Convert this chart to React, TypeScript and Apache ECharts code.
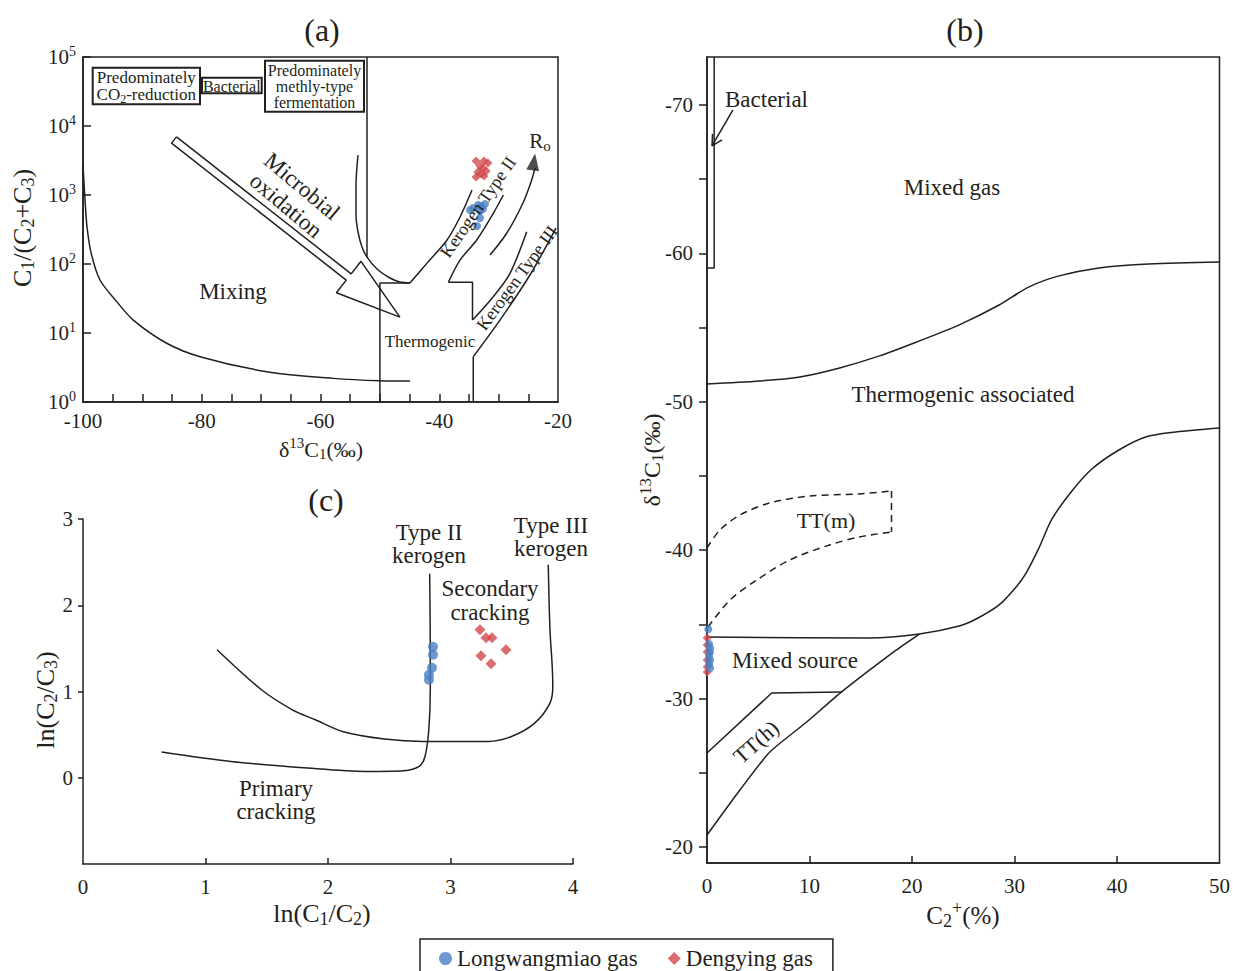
import React, { useEffect, useRef } from 'react';
import * as echarts from 'echarts';

const FONT = "'Liberation Serif', 'Times New Roman', serif";
const INK = '#231f20';
const BLUE = '#4a7fc4';
const RED = '#d2474b';

// ---------- Panel (a): C1/(C2+C3) vs d13C1 ----------
const aXTicks = [-95, -90, -85, -80, -75, -70, -65, -60, -55, -50, -45, -40, -35, -30, -25];
const aXLabels = [-100, -80, -60, -40, -20];
const longwangA: number[][] = [
  [-34.82, 606], [-34.32, 648], [-33.47, 716], [-32.97, 692], [-32.3, 741],
  [-32.63, 627], [-33.14, 586], [-33.14, 464], [-33.64, 356],
];
const dengyingA: number[][] = [
  [-33.8, 3110], [-32.46, 3110], [-31.8, 2910], [-33.14, 2630], [-32.63, 2450],
  [-33.47, 2150], [-32.1, 2230], [-32.46, 1885], [-33.8, 1820], [-32.97, 2014],
];
const aMixing: number[][] = [
  [-100, 2720], [-99.6, 700], [-99.3, 330], [-98.6, 140], [-97.14, 58.6], [-94.32, 28.5],
  [-91.53, 15.4], [-85.9, 7.1], [-80.29, 4.53], [-69.06, 2.75], [-57.84, 2.2], [-49.98, 2.03], [-44.93, 2.01],
];
const aBactLine: number[][] = [[-52.17, 100000], [-52.17, 126]];
const aBowl: number[][] = [
  [-53.68, 3800], [-54.02, 1396], [-54.02, 513], [-53.68, 291], [-53.01, 176], [-52.17, 126],
  [-50.48, 84.6], [-48.29, 62.7], [-46.61, 54.8], [-44.93, 53],
];
const aThermoStep: number[][] = [[-50, 1], [-50, 53], [-44.93, 53]];
const aType2Left: number[][] = [[-44.93, 53], [-42.06, 103], [-38.69, 223], [-36.5, 480], [-34.48, 1181]];
const aType2Right: number[][] = [[-29.2, 1000], [-30.9, 543], [-33.69, 223], [-36.5, 114], [-38.47, 54.3]];
const aStep2: number[][] = [[-38.47, 54.3], [-34.4, 54.3], [-34.4, 15.4]];
const aType3Left: number[][] = [[-34.4, 15.4], [-30.9, 33.6], [-28.08, 73.3], [-25.27, 294]];
const aType3Right: number[][] = [[-20.34, 332], [-24.72, 69.3], [-29.77, 15.4], [-34.27, 4.54]];
const aStep3: number[][] = [[-34.27, 4.54], [-34.27, 1]];
const aRoCurve: number[][] = [[-31.45, 135], [-28.64, 279], [-25.9, 766], [-24.43, 1650], [-23.87, 2460]];
const aRoHead: number[][] = [[-24.06, 3007]];
const aMicrobialArrow: number[][] = [
  [-84.25, 6950], [-54.83, 71.9], [-53.18, 109.4], [-46.63, 17.0], [-57.32, 38.4],
  [-55.67, 58.4], [-85.09, 5650], [-84.25, 6950],
];

// ---------- Panel (b): d13C1 vs C2+ ----------
const bXTicks = [10, 20, 30, 40];
const bXLabels = [0, 10, 20, 30, 40, 50];
const bYTicks = [-70, -65, -60, -55, -50, -45, -40, -35, -30, -25, -20];
const bYLabels = [-70, -60, -50, -40, -30, -20];
const longwangB: number[][] = [
  [0.13, -34.67], [0.2, -33.68], [0.3, -33.41], [0.3, -33.14], [0.2, -32.87], [0.3, -32.6], [0.2, -32.33], [0.3, -32.06],
];
const dengyingB: number[][] = [
  [0.02, -34.08], [0.02, -33.61], [0.02, -33.14], [0.02, -32.6], [0.02, -32.13], [0.02, -31.79],
];
const bUpper: number[][] = [
  [0, -51.2], [5.16, -51.4], [9.05, -51.67], [12.94, -52.28], [16.83, -53.09], [20.72, -54.1],
  [24.61, -55.18], [28.5, -56.52], [31.42, -57.74], [34.34, -58.48], [38.23, -59.02], [43.09, -59.29], [50, -59.42],
];
const bLower: number[][] = [
  [0, -34.15], [15.86, -34.08], [20.72, -34.35], [24.61, -34.89], [26.26, -35.36], [28.5, -36.31],
  [30.16, -37.52], [31.13, -38.46], [32.39, -40.15], [33.66, -42.1], [35.6, -43.99], [37.55, -45.47],
  [40.18, -46.75], [42.8, -47.63], [45.72, -47.96], [50, -48.23],
];
const bTTmUpper: number[][] = [[0, -40.15], [1.26, -41.36], [3.21, -42.37], [6.13, -43.18], [10.02, -43.65], [14.88, -43.79], [18.0, -43.99]];
const bTTmLower: number[][] = [[0.1, -34.82], [2.24, -36.64], [4.86, -37.99], [8.07, -39.34], [11.96, -40.35], [14.88, -40.89], [18.0, -41.23]];
const bTTmSide: number[][] = [[18.0, -43.99], [18.0, -41.23]];
const bTThUpper: number[][] = [[0, -26.33], [6.32, -30.38], [13.13, -30.45]];
const bTThLower: number[][] = [[0, -20.81], [3.21, -23.84], [6.13, -26.4], [9.73, -28.42], [13.13, -30.45], [18.48, -33.28], [20.72, -34.35]];
const bBactBox: number[][] = [[0.7, -73.23], [0.7, -59.02], [0, -59.02]];
const bBactArrow: number[][] = [[2.53, -69.66], [0.49, -67.24]];
const bBactHead: number[][] = [[1.46, -67.64], [0.49, -67.24], [0.54, -68.05]];

// ---------- Panel (c): ln(C2/C3) vs ln(C1/C2) ----------
const cXTicks = [1, 2, 3, 4];
const cXLabels = [0, 1, 2, 3, 4];
const cYTicks = [0, 1, 2, 3];
const cYLabels = [0, 1, 2, 3];
const longwangC: number[][] = [[2.857, 1.519], [2.857, 1.426], [2.849, 1.275], [2.824, 1.194], [2.824, 1.136]];
const dengyingC: number[][] = [[3.241, 1.716], [3.29, 1.623], [3.339, 1.623], [3.453, 1.484], [3.249, 1.414], [3.331, 1.322]];
const cPrimary: number[][] = [
  [0.641, 0.298], [1.207, 0.189], [1.834, 0.112], [2.305, 0.073], [2.619, 0.081], [2.744, 0.131],
  [2.792, 0.247], [2.823, 0.557], [2.835, 1.02], [2.835, 1.484], [2.83, 2.365],
];
const cSecondary: number[][] = [
  [1.094, 1.484], [1.457, 1.02], [1.709, 0.788], [1.897, 0.672], [2.117, 0.537], [2.462, 0.449],
  [2.776, 0.421], [3.31, 0.421], [3.498, 0.479], [3.687, 0.634], [3.812, 0.866], [3.835, 1.06],
  [3.83, 1.3], [3.812, 1.716], [3.798, 2.47],
];

function richG(f: number) {
  const s = Math.round(f * 0.7);
  return {
    sub: { fontSize: s, fontFamily: FONT, fill: INK, color: INK, padding: [Math.round(f * 0.45), 0, 0, 0] },
    sup: { fontSize: s, fontFamily: FONT, fill: INK, color: INK, padding: [0, 0, Math.round(f * 0.6), 0] },
  };
}

function T(text: string, x: number, y: number, size: number, o: any = {}) {
  return {
    type: 'text', x, y, rotation: o.rot || 0, silent: true, z: 100,
    style: {
      text, fill: INK, fontSize: size, fontFamily: FONT,
      align: o.align || 'center', verticalAlign: 'middle',
      lineHeight: o.lh, rich: richG(size),
    },
  };
}

function R(x: number, y: number, w: number, h: number) {
  return { type: 'rect', z: 90, silent: true, shape: { x, y, width: w, height: h }, style: { fill: '#fff', stroke: INK, lineWidth: 2 } };
}

function L(name: string, data: number[][], ax: number, o: any = {}) {
  return {
    type: 'line', name, data, xAxisIndex: ax, yAxisIndex: ax, symbol: 'none', showSymbol: false,
    silent: true, smooth: o.smooth || 0, z: 2,
    lineStyle: { color: INK, width: 1.5, type: o.dash ? [7, 5] : 'solid' },
  };
}

const axisLine = { show: true, onZero: false, lineStyle: { color: INK, width: 1.5 } };
const lbl = (extra: any) => ({ fontSize: 21, fontFamily: FONT, color: INK, showMinLabel: true, showMaxLabel: true, ...extra });

export default function App() {
  const ref = useRef<HTMLDivElement>(null);
  useEffect(() => {
    if (!ref.current) return;
    const chart = echarts.init(ref.current, null, { renderer: 'svg' });
    const P = Math.PI / 2;
    const option: any = {
      animation: false,
      backgroundColor: '#fff',
      grid: [
        { left: 83, top: 57, width: 475, height: 345, show: true, borderColor: INK, borderWidth: 1.5, backgroundColor: 'transparent' },
        { left: 707, top: 57, width: 514, height: 806, show: true, borderColor: INK, borderWidth: 1.5, backgroundColor: 'transparent' },
        { left: 83, top: 519, width: 490, height: 345 },
      ],
      xAxis: [
        {
          gridIndex: 0, type: 'value', min: -100, max: -20, axisLine, splitLine: { show: false },
          axisTick: { show: true, inside: true, length: 8, customValues: aXTicks, lineStyle: { color: INK, width: 1.5 } },
          axisLabel: lbl({ customValues: aXLabels, margin: 8 }),
        },
        {
          gridIndex: 1, type: 'value', min: 0, max: 50, axisLine, splitLine: { show: false },
          axisTick: { show: true, inside: true, length: 7, customValues: bXTicks, lineStyle: { color: INK, width: 1.5 } },
          axisLabel: lbl({ customValues: bXLabels, margin: 12 }),
        },
        {
          gridIndex: 2, type: 'value', min: 0, max: 4, axisLine, splitLine: { show: false },
          axisTick: { show: true, inside: true, length: 6, customValues: cXTicks, lineStyle: { color: INK, width: 1.5 } },
          axisLabel: lbl({ customValues: cXLabels, margin: 12 }),
        },
      ],
      yAxis: [
        {
          gridIndex: 0, type: 'log', logBase: 10, min: 1, max: 100000, axisLine, splitLine: { show: false },
          minorTick: { show: false },
          axisTick: { show: true, inside: true, length: 8, lineStyle: { color: INK, width: 1.5 } },
          axisLabel: lbl({
            margin: 7,
            formatter: (v: number) => `10{sup|${Math.round(Math.log10(v))}}`,
            rich: { sup: { fontSize: 14, fontFamily: FONT, color: INK, padding: [0, 0, 12, 0] } },
          }),
        },
        {
          gridIndex: 1, type: 'value', min: -73.23, max: -18.92, inverse: true, axisLine, splitLine: { show: false },
          axisTick: { show: true, inside: false, length: 8, customValues: bYTicks, lineStyle: { color: INK, width: 1.5 } },
          axisLabel: lbl({ customValues: bYLabels, margin: 14 }),
        },
        {
          gridIndex: 2, type: 'value', min: -1, max: 3, axisLine, splitLine: { show: false },
          axisTick: { show: true, inside: false, length: 5, customValues: cYTicks, lineStyle: { color: INK, width: 1.5 } },
          axisLabel: lbl({ customValues: cYLabels, margin: 10 }),
        },
      ],
      legend: {
        left: 420, top: 939, orient: 'horizontal', selectedMode: false,
        data: [{ name: 'Longwangmiao gas', icon: 'circle' }, { name: 'Dengying gas', icon: 'diamond' }],
        itemWidth: 13, itemHeight: 13, itemGap: 30, itemTextGap: 8,
        padding: [8, 20, 14, 19], borderColor: INK, borderWidth: 1.5,
        textStyle: { fontSize: 23, fontFamily: FONT, color: INK },
      },
      series: [
        // panel a
        L('aMixing', aMixing, 0, { smooth: 0.3 }),
        L('aBactLine', aBactLine, 0),
        L('aBowl', aBowl, 0, { smooth: 0.3 }),
        L('aThermoStep', aThermoStep, 0),
        L('aType2Left', aType2Left, 0, { smooth: 0.3 }),
        L('aType2Right', aType2Right, 0, { smooth: 0.3 }),
        L('aStep2', aStep2, 0),
        L('aType3Left', aType3Left, 0, { smooth: 0.3 }),
        L('aType3Right', aType3Right, 0, { smooth: 0.3 }),
        L('aStep3', aStep3, 0),
        L('aRoCurve', aRoCurve, 0, { smooth: 0.3 }),
        L('aMicrobialArrow', aMicrobialArrow, 0),
        {
          type: 'scatter', name: 'aRoHead', data: aRoHead, xAxisIndex: 0, yAxisIndex: 0, silent: true,
          symbol: 'triangle', symbolSize: [13, 17], symbolRotate: -8, itemStyle: { color: INK },
        },
        // panel b
        L('bUpper', bUpper, 1, { smooth: 0.3 }),
        L('bLower', bLower, 1, { smooth: 0.3 }),
        L('bTTmUpper', bTTmUpper, 1, { smooth: 0.3, dash: true }),
        L('bTTmLower', bTTmLower, 1, { smooth: 0.3, dash: true }),
        L('bTTmSide', bTTmSide, 1, { dash: true }),
        L('bTThUpper', bTThUpper, 1),
        L('bTThLower', bTThLower, 1, { smooth: 0.2 }),
        L('bBactBox', bBactBox, 1),
        L('bBactArrow', bBactArrow, 1),
        L('bBactHead', bBactHead, 1),
        // panel c
        L('cPrimary', cPrimary, 2, { smooth: 0.3 }),
        L('cSecondary', cSecondary, 2, { smooth: 0.3 }),
        // points
        { type: 'scatter', name: 'Dengying gas', data: dengyingA, xAxisIndex: 0, yAxisIndex: 0, symbol: 'diamond', symbolSize: 9, itemStyle: { color: RED }, z: 5 },
        { type: 'scatter', name: 'Longwangmiao gas', data: longwangA, xAxisIndex: 0, yAxisIndex: 0, symbol: 'circle', symbolSize: 8, itemStyle: { color: BLUE }, z: 6 },
        { type: 'scatter', name: 'Dengying gas', data: dengyingB, xAxisIndex: 1, yAxisIndex: 1, symbol: 'diamond', symbolSize: 9, itemStyle: { color: RED }, z: 5 },
        { type: 'scatter', name: 'Longwangmiao gas', data: longwangB, xAxisIndex: 1, yAxisIndex: 1, symbol: 'circle', symbolSize: 8, itemStyle: { color: BLUE }, z: 6 },
        { type: 'scatter', name: 'Dengying gas', data: dengyingC, xAxisIndex: 2, yAxisIndex: 2, symbol: 'diamond', symbolSize: 11, itemStyle: { color: RED }, z: 5 },
        { type: 'scatter', name: 'Longwangmiao gas', data: longwangC, xAxisIndex: 2, yAxisIndex: 2, symbol: 'circle', symbolSize: 10, itemStyle: { color: BLUE }, z: 6 },
      ],
      graphic: [
        // titles
        T('(a)', 322, 30, 32), T('(b)', 965, 30, 32), T('(c)', 326, 500, 32),
        // panel a boxes
        R(92.7, 67.7, 107.3, 36.6), T('Predominately\nCO{sub|2}-reduction', 146.3, 86, 17, { lh: 17 }),
        R(202, 77.7, 59.7, 15.6), T('Bacterial', 231.8, 86, 16),
        R(265, 60.7, 99, 51), T('Predominately\nmethly-type\nfermentation', 314.5, 86.5, 16, { lh: 16 }),
        // panel a labels
        T('Mixing', 233, 291, 23),
        T('Microbial\noxidation', 294, 196, 23, { rot: -0.70, lh: 25 }),
        T('Thermogenic', 430, 341, 17),
        T('Kerogen Type II', 478, 207, 18, { rot: 0.96 }),
        T('Kerogen Type III', 517, 278, 18, { rot: 0.94 }),
        T('R{sub|o}', 540, 141, 21),
        T('C{sub|1}/(C{sub|2}+C{sub|3})', 22, 228, 26, { rot: P }),
        T('δ{sup|13}C{sub|1}(‰)', 321, 449, 22),
        // panel b labels
        T('Bacterial', 725, 99, 23, { align: 'left' }),
        T('Mixed gas', 952, 187, 23),
        T('Thermogenic associated', 963, 394, 23),
        T('TT(m)', 826, 520, 22),
        T('Mixed source', 795, 660, 23),
        T('TT(h)', 756, 742, 22, { rot: 0.73 }),
        T('δ{sup|13}C{sub|1}(‰)', 652, 460, 24, { rot: P }),
        T('C{sub|2}{sup|+}(%)', 963, 915, 25),
        // panel c labels
        T('Type II\nkerogen', 429, 544, 23, { lh: 23 }),
        T('Type III\nkerogen', 551, 537, 23, { lh: 23 }),
        T('Secondary\ncracking', 490, 600, 23, { lh: 24 }),
        T('Primary\ncracking', 276, 800, 23, { lh: 23 }),
        T('ln(C{sub|2}/C{sub|3})', 45, 700, 26, { rot: P }),
        T('ln(C{sub|1}/C{sub|2})', 322, 913, 26),
      ],
    };
    chart.setOption(option);
    return () => chart.dispose();
  }, []);
  return <div ref={ref} style={{ position: 'absolute', left: 0, top: 0, width: 1233, height: 971, background: '#fff' }} />;
}
